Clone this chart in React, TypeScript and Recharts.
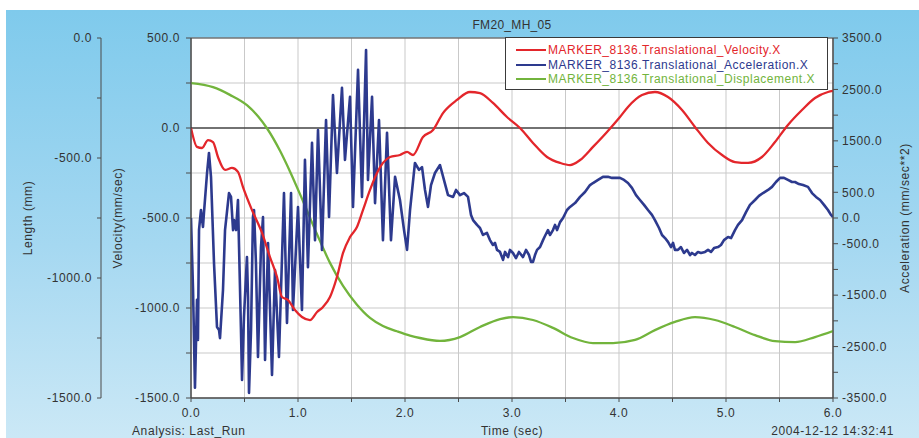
import React from 'react';
import {
  ComposedChart,
  Line,
  XAxis,
  YAxis,
  CartesianGrid,
  ReferenceLine,
  ReferenceArea,
  Legend,
} from 'recharts';

// ---------- data ----------
const velT = [0, 0.056, 0.103, 0.159, 0.206, 0.252, 0.318, 0.383, 0.439, 0.486, 0.57, 0.664, 0.738, 0.804, 0.85, 0.907, 0.972, 1.037, 1.112, 1.178, 1.234, 1.299, 1.364, 1.421, 1.486, 1.551, 1.607, 1.673, 1.738, 1.794, 1.86, 1.953, 2.019, 2.075, 2.168, 2.262, 2.355, 2.486, 2.607, 2.701, 2.822, 2.953, 3.075, 3.196, 3.327, 3.449, 3.542, 3.636, 3.757, 3.888, 4.009, 4.084, 4.215, 4.336, 4.458, 4.589, 4.71, 4.832, 4.963, 5.084, 5.206, 5.336, 5.458, 5.579, 5.71, 5.832, 5.953, 6.0];
const velV = [0, -105, -111, -67, -78, -161, -233, -222, -244, -328, -456, -583, -717, -828, -939, -956, -1011, -1050, -1067, -1022, -994, -939, -828, -694, -606, -550, -456, -344, -250, -194, -161, -150, -133, -150, -50, -11, 83, 156, 200, 194, 139, 61, 0, -83, -161, -194, -206, -178, -105, -22, 61, 117, 183, 200, 172, 100, 6, -83, -150, -189, -194, -161, -78, 17, 100, 167, 200, 206];

const accT = [0, 0.019, 0.037, 0.056, 0.065, 0.075, 0.093, 0.112, 0.121, 0.15, 0.168, 0.187, 0.215, 0.243, 0.262, 0.271, 0.299, 0.318, 0.355, 0.374, 0.393, 0.402, 0.421, 0.439, 0.449, 0.467, 0.477, 0.495, 0.523, 0.533, 0.542, 0.561, 0.579, 0.589, 0.607, 0.626, 0.654, 0.673, 0.692, 0.72, 0.757, 0.785, 0.822, 0.869, 0.897, 0.935, 0.953, 1.0, 1.037, 1.065, 1.093, 1.131, 1.159, 1.187, 1.224, 1.262, 1.29, 1.327, 1.364, 1.411, 1.439, 1.486, 1.514, 1.561, 1.598, 1.636, 1.654, 1.692, 1.72, 1.757, 1.794, 1.832, 1.869, 1.907, 1.953, 1.991, 2.019, 2.047, 2.093, 2.131, 2.159, 2.187, 2.215, 2.243, 2.28, 2.327, 2.364, 2.402, 2.449, 2.477, 2.514, 2.551, 2.589, 2.617, 2.636, 2.673, 2.701, 2.729, 2.766, 2.794, 2.822, 2.841, 2.86, 2.888, 2.916, 2.935, 2.963, 2.981, 3.009, 3.037, 3.065, 3.103, 3.131, 3.159, 3.178, 3.196, 3.215, 3.234, 3.262, 3.29, 3.308, 3.336, 3.355, 3.383, 3.402, 3.421, 3.449, 3.477, 3.514, 3.542, 3.589, 3.636, 3.682, 3.729, 3.757, 3.804, 3.85, 3.897, 3.935, 3.963, 4.009, 4.047, 4.084, 4.121, 4.159, 4.196, 4.234, 4.271, 4.308, 4.336, 4.374, 4.402, 4.43, 4.458, 4.486, 4.505, 4.523, 4.551, 4.579, 4.607, 4.636, 4.664, 4.682, 4.71, 4.738, 4.766, 4.804, 4.832, 4.86, 4.888, 4.925, 4.953, 4.981, 5.019, 5.047, 5.084, 5.112, 5.15, 5.187, 5.224, 5.271, 5.308, 5.346, 5.393, 5.43, 5.467, 5.505, 5.542, 5.579, 5.617, 5.645, 5.682, 5.72, 5.766, 5.804, 5.841, 5.879, 5.916, 5.953, 5.981, 6.0];
const accV = [0, -1400, -3300, -1590, -2370, -230, 155, -175, 95, 875, 1265, 795, -875, -2120, -2180, -2335, -1400, -235, 485, 410, -235, -40, -235, 350, -565, -2180, -3150, -1925, -760, -1535, -3400, -2180, 20, 155, -875, -2700, -565, 20, -2760, -485, -3050, -1010, -2700, 485, -2040, 485, -1790, 215, -1790, 1130, -955, 1460, -430, 1710, -620, 1905, 20, 2390, 875, 2530, 1130, 2355, 215, 2880, 410, 3265, 740, 2355, 290, 1905, -430, 1655, -430, 800, 350, -235, -620, 155, 1070, 935, 990, 545, 215, 640, 875, 1030, 740, 445, 410, 545, 445, 485, 410, 60, -40, -135, -195, -330, -290, -430, -525, -485, -620, -660, -815, -660, -760, -620, -680, -780, -660, -760, -620, -720, -855, -855, -720, -620, -565, -430, -350, -235, -330, -235, -135, -235, -80, 0, 155, 215, 290, 410, 505, 640, 680, 740, 800, 800, 780, 780, 780, 740, 680, 585, 445, 350, 255, 155, 60, -40, -195, -330, -390, -465, -565, -485, -620, -620, -565, -680, -620, -720, -680, -720, -660, -680, -660, -620, -660, -585, -565, -525, -430, -370, -390, -235, -135, -40, 115, 255, 350, 430, 485, 545, 605, 700, 780, 780, 740, 700, 700, 660, 640, 605, 485, 410, 350, 255, 155, 60, 20];

const dispT = [0, 0.206, 0.364, 0.523, 0.626, 0.71, 0.832, 0.925, 1.047, 1.178, 1.299, 1.421, 1.551, 1.673, 1.794, 1.925, 2.047, 2.14, 2.327, 2.514, 2.701, 2.888, 3.009, 3.196, 3.383, 3.57, 3.757, 3.944, 4.15, 4.336, 4.523, 4.71, 4.897, 5.084, 5.271, 5.458, 5.645, 5.832, 6.0];
const dispV = [-188, -205, -237, -280, -326, -376, -470, -556, -680, -818, -937, -1033, -1111, -1166, -1200, -1222, -1240, -1250, -1262, -1246, -1204, -1171, -1163, -1175, -1208, -1250, -1271, -1271, -1258, -1217, -1183, -1163, -1175, -1204, -1238, -1263, -1267, -1246, -1221];

const timeTicks = [0, 0.5, 1, 1.5, 2, 2.5, 3, 3.5, 4, 4.5, 5, 5.5, 6];
const velTicks = [-1500, -1250, -1000, -750, -500, -250, 0, 250, 500];
const lenTicks = [-1500, -1250, -1000, -750, -500, -250, 0];
const accTicks = [-3500, -3000, -2500, -2000, -1500, -1000, -500, 0, 500, 1000, 1500, 2000, 2500, 3000, 3500];

const seriesNames = [
  'MARKER_8136.Translational_Velocity.X',
  'MARKER_8136.Translational_Acceleration.X',
  'MARKER_8136.Translational_Displacement.X',
];
const seriesColors = ['#e3262b', '#2d3a8e', '#72b43c'];

const velData = velT.map((t, i) => ({ t, v: velV[i] }));
const accData = accT.map((t, i) => ({ t, a: accV[i] }));
const dispData = dispT.map((t, i) => ({ t, d: dispV[i] }));

// ---------- helpers ----------
const TXT = '#333333';
const AX = '#4a4a4a';
const FONT = '"Liberation Sans", Arial, sans-serif';

const fmt500 = (v: number) => (v % 500 === 0 ? v.toFixed(1) : '');
const fmtAcc = (v: number) =>
  v === 0 || (Math.abs(v) / 500) % 2 === 1 ? v.toFixed(1) : '';
const fmtTime = (v: number) => (Number.isInteger(v) ? v.toFixed(1) : '');

const yLabel = (text: string, dx: number) => (props: any) => {
  const vb = props.viewBox || {};
  const x = (vb.x ?? 0) + dx;
  const y = (vb.y ?? 38) + (vb.height ?? 360) / 2;
  return (
    <text
      x={x}
      y={y}
      transform={`rotate(-90 ${x} ${y})`}
      textAnchor="middle"
      dominantBaseline="central"
      fill={TXT}
      fontSize={12}
    >
      {text}
    </text>
  );
};

const xLabel = (props: any) => {
  const vb = props.viewBox || {};
  const x = (vb.x ?? 191) + (vb.width ?? 642) / 2;
  return (
    <text x={x} y={431} textAnchor="middle" dominantBaseline="central" fill={TXT} fontSize={12}>
      Time (sec)
    </text>
  );
};

const renderLegend = () => (
  <div
    style={{
      boxSizing: 'border-box',
      width: 323,
      height: 53,
      background: '#fff',
      border: '1px solid #3a3a3a',
      padding: '5px 0 0 10px',
      fontFamily: FONT,
      fontSize: 12,
      letterSpacing: '0.5px',
    }}
  >
    {seriesNames.map((n, i) => (
      <div key={n} style={{ display: 'flex', alignItems: 'center', height: 14.5, whiteSpace: 'nowrap' }}>
        <span style={{ display: 'inline-block', width: 30, height: 2, background: seriesColors[i], marginRight: 2 }} />
        <span style={{ color: seriesColors[i] }}>{n}</span>
      </div>
    ))}
  </div>
);

export default function App() {
  return (
    <div
      style={{
        position: 'absolute',
        left: 0,
        top: 0,
        width: 919,
        height: 438,
        background: '#ffffff',
        overflow: 'hidden',
        fontFamily: FONT,
        letterSpacing: '0.6px',
      }}
    >
      <div
        style={{
          position: 'absolute',
          left: 6,
          top: 10,
          right: 0,
          bottom: 0,
          background: 'linear-gradient(to bottom, #7fcaec 0%, #a5d8f1 55%, #cbe8f6 100%)',
        }}
      />
      <div style={{ position: 'absolute', left: 0, top: 0 }}>
        <ComposedChart width={919} height={438} margin={{ top: 38, right: 0, bottom: 0, left: 0 }}>
          <CartesianGrid
            stroke="#c9c9c9"
            strokeWidth={1}
            fill="#ffffff"
            fillOpacity={1}
          />
          <XAxis
            type="number"
            dataKey="t"
            domain={[0, 6]}
            ticks={timeTicks}
            interval={0}
            allowDataOverflow
            tickFormatter={fmtTime}
            height={40}
            tickSize={4}
            tickMargin={6}
            stroke={AX}
            tick={{ fill: TXT, fontSize: 12 }}
            label={xLabel}
          />
          <YAxis
            type="number"
            domain={[-1500, 500]}
            ticks={velTicks}
            interval={0}
            allowDataOverflow
            tickFormatter={fmt500}
            width={90}
            tickSize={5}
            tickMargin={6}
            stroke={AX}
            tick={{ fill: TXT, fontSize: 12 }}
            label={yLabel('Velocity(mm/sec)', 17)}
          />
          <YAxis
            yAxisId="len"
            type="number"
            domain={[-1500, 0]}
            ticks={lenTicks}
            interval={0}
            allowDataOverflow
            tickFormatter={fmt500}
            width={101}
            tickSize={4}
            tickMargin={5}
            stroke={AX}
            tick={{ fill: TXT, fontSize: 12 }}
            label={yLabel('Length (mm)', 28)}
          />
          <YAxis
            yAxisId="acc"
            orientation="right"
            type="number"
            domain={[-3500, 3500]}
            ticks={accTicks}
            interval={0}
            allowDataOverflow
            tickFormatter={fmtAcc}
            width={86}
            tickSize={5}
            tickMargin={4}
            stroke={AX}
            tick={{ fill: TXT, fontSize: 12 }}
            label={yLabel('Acceleration (mm/sec**2)', 72)}
          />
          <ReferenceArea x1={0} x2={6} y1={-1500} y2={500} fill="#ffffff" fillOpacity={0} stroke={AX} strokeWidth={1} />
          <ReferenceLine y={0} stroke="#000000" strokeWidth={1.2} />
          <Line
            data={dispData}
            yAxisId="len"
            dataKey="d"
            name={seriesNames[2]}
            type="monotone"
            stroke={seriesColors[2]}
            strokeWidth={2.3}
            dot={false}
            isAnimationActive={false}
          />
          <Line
            data={accData}
            yAxisId="acc"
            dataKey="a"
            name={seriesNames[1]}
            type="linear"
            stroke={seriesColors[1]}
            strokeWidth={2.6}
            strokeLinejoin="round"
            dot={false}
            isAnimationActive={false}
          />
          <Line
            data={velData}
            dataKey="v"
            name={seriesNames[0]}
            type="monotone"
            stroke={seriesColors[0]}
            strokeWidth={2.3}
            dot={false}
            isAnimationActive={false}
          />
          <Legend
            layout="vertical"
            align="center"
            verticalAlign="middle"
            wrapperStyle={{ position: 'absolute', left: 505, top: 37, width: 323, height: 53 }}
            content={renderLegend}
          />
        </ComposedChart>
      </div>
      <div style={{ position: 'absolute', left: 0, width: 1024, top: 18, height: 14, lineHeight: '14px', fontSize: 12, color: TXT, textAlign: 'center', letterSpacing: '0.3px' }}>
        FM20_MH_05
      </div>
      <div style={{ position: 'absolute', left: 132, top: 424, height: 14, lineHeight: '14px', fontSize: 12, color: TXT, whiteSpace: 'nowrap' }}>
        Analysis: Last_Run
      </div>
      <div style={{ position: 'absolute', right: 919 - 894, top: 424, height: 14, lineHeight: '14px', fontSize: 12, color: TXT, whiteSpace: 'nowrap' }}>
        2004-12-12 14:32:41
      </div>
    </div>
  );
}
